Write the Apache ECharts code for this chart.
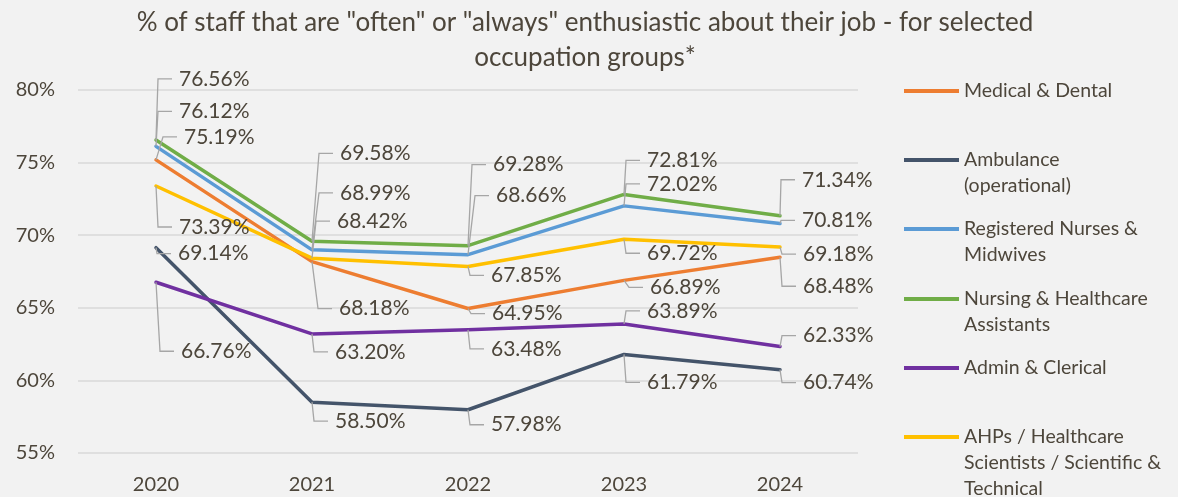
<!DOCTYPE html>
<html>
<head>
<meta charset="utf-8">
<script src="https://cdn.jsdelivr.net/npm/echarts@6/dist/echarts.min.js"></script>
<style>
  html, body { margin: 0; padding: 0; background: #F2F2F2; }
  #chart { width: 1178px; height: 497px; }
</style>
</head>
<body>
<div id="chart"></div>
<script>
// Survey years on the category axis
const years = ['2020', '2021', '2022', '2023', '2024'];

// Share of staff "often"/"always" enthusiastic about their job (%)
const medicalDental     = [75.19, 68.18, 64.95, 66.89, 68.48];
const ambulance         = [69.14, 58.50, 57.98, 61.79, 60.74];
const registeredNurses  = [76.12, 68.99, 68.66, 72.02, 70.81];
const nursingAssistants = [76.56, 69.58, 69.28, 72.81, 71.34];
const adminClerical     = [66.76, 63.20, 63.48, 63.89, 62.33];
const ahpsScientific    = [73.39, 68.42, 67.85, 69.72, 69.18];

const seriesNames = [
  'Medical & Dental',
  'Ambulance (operational)',
  'Registered Nurses & Midwives',
  'Nursing & Healthcare Assistants',
  'Admin & Clerical',
  'AHPs / Healthcare Scientists / Scientific & Technical'
];
const legendLabels = [
  ['Medical & Dental'],
  ['Ambulance', '(operational)'],
  ['Registered Nurses &', 'Midwives'],
  ['Nursing & Healthcare', 'Assistants'],
  ['Admin & Clerical'],
  ['AHPs / Healthcare', 'Scientists / Scientific &', 'Technical']
];

// Value axis range and step
const yMin = 55, yMax = 80, yStep = 5;

// ---- presentation ----
const seriesData = [medicalDental, ambulance, registeredNurses, nursingAssistants, adminClerical, ahpsScientific];
const colors = ['#ED7D31', '#44546A', '#5B9BD5', '#70AD47', '#7030A0', '#FFC000'];
const textColor = '#4D463B';
const fontFamily = 'Lato, "Open Sans", sans-serif';

// Callout placement: pixel offset of each label (left edge, middle) from its point
const calloutDx = [
  [28, 27, 24, 26, 23],
  [22, 23, 23, 23, 23],
  [23, 28, 28, 23, 22],
  [23, 28, 25, 23, 22],
  [25, 23, 23, 23, 23],
  [23, 25, 23, 23, 23]
];
const calloutDy = [
  [-23, 47, 5, 7, 29],
  [6, 19, 15, 28, 13],
  [-35, -57, -59, -22, -3],
  [-61, -88, -81, -34, -36],
  [69, 18, 19, -13, -11],
  [41, -37, 9, 14, 7]
];
// Legend entry icon centres (px from top)
const legendIconY = [91, 160, 229, 299, 368, 437];
const legendLine = 26;

function calloutRenderer(s) {
  return function (params, api) {
    const i = params.dataIndex;
    const v = api.value(1);
    const p = api.coord([api.value(0), v]);
    const tx = p[0] + calloutDx[s][i];
    const ty = p[1] + calloutDy[s][i];
    return {
      type: 'group',
      children: [
        {
          type: 'polyline',
          shape: { points: [[p[0], p[1]], [tx - 21, ty], [tx - 7, ty]] },
          style: { stroke: '#A6A6A6', lineWidth: 1.3, fill: null }
        },
        {
          type: 'text',
          x: tx,
          y: ty,
          style: {
            text: v.toFixed(2) + '%',
            fill: textColor,
            font: '21px ' + fontFamily,
            align: 'left',
            verticalAlign: 'middle'
          }
        }
      ]
    };
  };
}

const lineSeries = seriesData.map((vals, s) => ({
  name: seriesNames[s],
  type: 'line',
  data: vals,
  symbol: 'none',
  z: 2 + s,
  lineStyle: { color: colors[s], width: 3.5, cap: 'round', join: 'round' },
  itemStyle: { color: colors[s] },
  emphasis: { disabled: true },
  animation: false
}));

const calloutSeries = seriesData.map((vals, s) => ({
  name: seriesNames[s],
  type: 'custom',
  data: vals.map((v, i) => [i, v]),
  encode: { x: 0, y: 1 },
  z: 20,
  renderItem: calloutRenderer(s),
  animation: false,
  silent: true
}));

// One legend per entry; blank leading lines keep the icon level with the first text line
const legends = seriesNames.map((name, s) => {
  const n = legendLabels[s].length;
  const text = '\n'.repeat(n - 1) + legendLabels[s].join('\n');
  return {
    data: [name],
    orient: 'vertical',
    left: 904,
    top: legendIconY[s] - (2 * n - 1) * legendLine / 2,
    padding: 0,
    icon: 'rect',
    itemWidth: 55,
    itemHeight: 4,
    selectedMode: false,
    formatter: () => text,
    textStyle: {
      color: textColor,
      fontSize: 19.5,
      fontFamily: fontFamily,
      lineHeight: legendLine
    }
  };
});

const chart = echarts.init(document.getElementById('chart'), null, { renderer: 'canvas' });
chart.setOption({
  backgroundColor: '#F2F2F2',
  animation: false,
  color: colors,
  title: {
    text: '% of staff that are "often" or "always" enthusiastic about their job - for selected\noccupation groups*',
    left: 585,
    top: 5,
    padding: 0,
    textAlign: 'center',
    textStyle: {
      color: textColor,
      fontSize: 26,
      fontWeight: 'normal',
      fontFamily: fontFamily,
      lineHeight: 35
    }
  },
  legend: legends,
  grid: { left: 78, right: 320, top: 90, bottom: 44, containLabel: false },
  xAxis: {
    type: 'category',
    data: years,
    boundaryGap: true,
    axisLine: { show: false },
    axisTick: { show: false },
    axisLabel: { color: textColor, fontSize: 20, fontFamily: fontFamily, margin: 22 }
  },
  yAxis: {
    type: 'value',
    min: yMin,
    max: yMax,
    interval: yStep,
    axisLine: { show: false },
    axisTick: { show: false },
    axisLabel: { color: textColor, fontSize: 20, fontFamily: fontFamily, margin: 23, formatter: '{value}%' },
    splitLine: { lineStyle: { color: '#D9D9D9', width: 1.5 } }
  },
  series: lineSeries.concat(calloutSeries)
});
</script>
</body>
</html>
